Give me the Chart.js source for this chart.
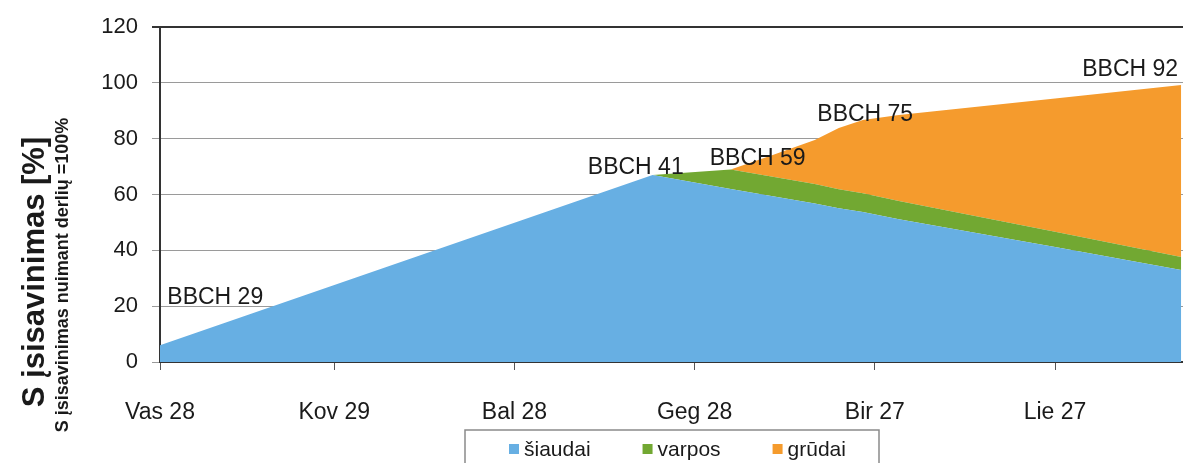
<!DOCTYPE html>
<html lang="lt">
<head>
    <meta charset="UTF-8">
    <title>S įsisavinimas</title>
    <style>
        html, body { margin: 0; padding: 0; background: #fff; }
        .chart-container { width: 1183px; height: 463px; position: relative; }
    </style>
</head>
<body>
    <div class="chart-container">
        <canvas id="sChart"></canvas>
    </div>
    <script src="https://cdn.jsdelivr.net/npm/chart.js"></script>
    <script>
        // dienos nuo Vas 28
        const days = [0, 82, 95, 102, 109, 113, 117, 123, 149, 170];
        const siaudai = [6, 67, 62, 59.4, 56.8, 55.1, 53.8, 51.2, 41.2, 33];
        const varpos = [0, 0, 7, 7, 7, 6.8, 6.7, 6.5, 5.5, 4.6];
        const grudai = [0, 0, 0, 7.8, 15.8, 22, 26.2, 30.8, 47.7, 61.7];

        const tickDays = [0, 29, 59, 89, 119, 149];
        const tickLabels = ['Vas 28', 'Kov 29', 'Bal 28', 'Geg 28', 'Bir 27', 'Lie 27'];

        const bbchLabels = ['BBCH 29', 'BBCH 41', 'BBCH 59', 'BBCH 75', 'BBCH 92'];
        const bbchDays = [9.2, 79.2, 99.5, 117.4, 161.5];
        const bbchValues = [23.1, 69.5, 72.9, 88.5, 104.8];

        const FONT = '"Liberation Sans", Arial, sans-serif';

        function toPoints(values) {
            return days.map((d, i) => ({ x: d, y: values[i] }));
        }

        // BBCH užrašai, ašies pavadinimai ir legenda
        const extras = {
            id: 'extras',
            afterDraw(chart) {
                const ctx = chart.ctx;
                const xs = chart.scales.x;
                const ys = chart.scales.y;
                ctx.save();
                ctx.fillStyle = '#1a1a1a';
                ctx.font = '23px ' + FONT;
                ctx.textAlign = 'center';
                ctx.textBaseline = 'middle';
                for (let i = 0; i < bbchLabels.length; i++) {
                    ctx.fillText(bbchLabels[i], xs.getPixelForValue(bbchDays[i]), ys.getPixelForValue(bbchValues[i]));
                }

                // y ašies pavadinimai
                ctx.translate(35, 272);
                ctx.rotate(-Math.PI / 2);
                ctx.font = 'bold 31px ' + FONT;
                ctx.fillText('S įsisavinimas [%]', 0, 0);
                ctx.setTransform(1, 0, 0, 1, 0, 0);
                ctx.translate(63, 275);
                ctx.rotate(-Math.PI / 2);
                ctx.font = 'bold 18px ' + FONT;
                ctx.fillText('S įsisavinimas nuimant derlių =100%', 0, 0);
                ctx.setTransform(1, 0, 0, 1, 0, 0);

                // legenda
                ctx.strokeStyle = '#8a8a8a';
                ctx.lineWidth = 1.5;
                ctx.strokeRect(465, 430, 414, 45);
                ctx.font = '21px ' + FONT;
                ctx.textAlign = 'left';
                let lx = 509;
                chart.data.datasets.forEach(ds => {
                    ctx.fillStyle = ds.backgroundColor;
                    ctx.fillRect(lx, 444, 10, 10);
                    ctx.fillStyle = '#1a1a1a';
                    ctx.fillText(ds.label, lx + 15, 450);
                    lx += 15 + ctx.measureText(ds.label).width + 52;
                });
                ctx.restore();
            }
        };

        const ctx = document.getElementById('sChart');
        new Chart(ctx, {
            type: 'line',
            data: {
                datasets: [{
                    label: 'šiaudai',
                    data: toPoints(siaudai),
                    backgroundColor: 'rgb(103, 175, 227)',
                    borderColor: 'rgb(103, 175, 227)',
                    fill: 'origin'
                }, {
                    label: 'varpos',
                    data: toPoints(varpos),
                    backgroundColor: 'rgb(114, 168, 50)',
                    borderColor: 'rgb(114, 168, 50)',
                    fill: '-1'
                }, {
                    label: 'grūdai',
                    data: toPoints(grudai),
                    backgroundColor: 'rgb(245, 155, 45)',
                    borderColor: 'rgb(245, 155, 45)',
                    fill: '-1'
                }]
            },
            options: {
                responsive: true,
                maintainAspectRatio: false,
                animation: false,
                layout: {
                    padding: { top: 27, left: 0, right: 0, bottom: 0 }
                },
                elements: {
                    point: { radius: 0 },
                    line: { borderWidth: 0, tension: 0 }
                },
                plugins: {
                    tooltip: { enabled: false },
                    legend: { display: false }
                },
                scales: {
                    x: {
                        type: 'linear',
                        min: 0,
                        max: 170.3,
                        afterBuildTicks: (scale) => {
                            scale.ticks = tickDays.map(v => ({ value: v }));
                        },
                        afterFit: (scale) => { scale.height = 101; },
                        ticks: {
                            autoSkip: false,
                            maxRotation: 0,
                            padding: 29,
                            color: '#1a1a1a',
                            font: { family: FONT, size: 23 },
                            callback: (value) => tickLabels[tickDays.indexOf(value)]
                        },
                        grid: {
                            drawOnChartArea: false,
                            drawTicks: true,
                            tickLength: 8,
                            color: '#555'
                        },
                        border: { color: '#333', width: 2 }
                    },
                    y: {
                        stacked: true,
                        min: 0,
                        max: 120,
                        afterFit: (scale) => { scale.width = 160; },
                        ticks: {
                            stepSize: 20,
                            padding: 14,
                            color: '#1a1a1a',
                            font: { family: FONT, size: 22 }
                        },
                        grid: {
                            tickLength: 8,
                            color: (c) => c.tick && c.tick.value === 120 ? '#333' : '#9a9a9a',
                            lineWidth: (c) => c.tick && c.tick.value === 120 ? 2 : 1
                        },
                        border: { color: '#333', width: 2 }
                    }
                }
            },
            plugins: [extras]
        });
    </script>
</body>
</html>
